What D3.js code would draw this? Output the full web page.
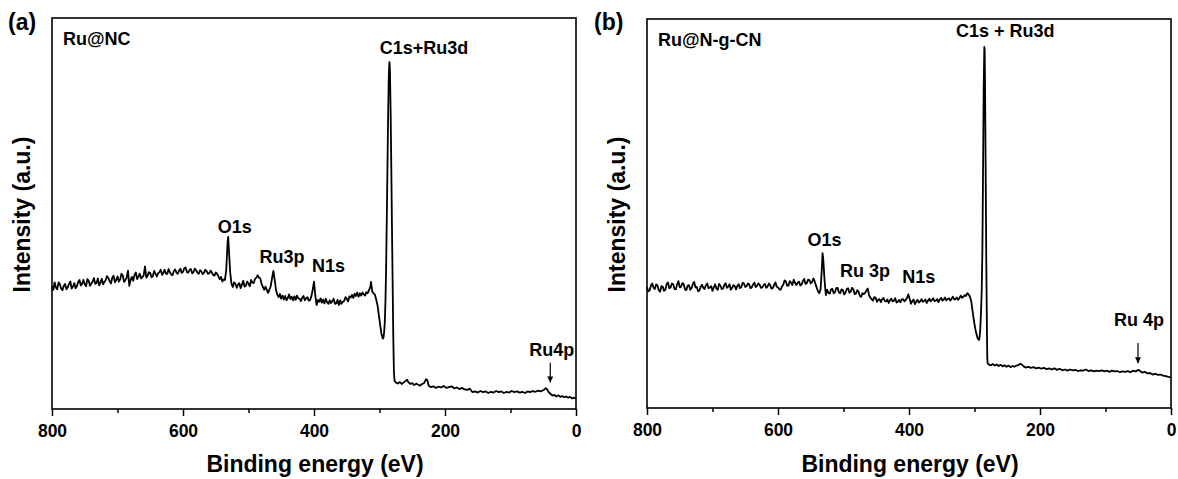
<!DOCTYPE html>
<html>
<head>
<meta charset="utf-8">
<script src="https://cdn.jsdelivr.net/npm/d3@7"></script>
<style>
  html, body { margin: 0; padding: 0; background: #fff; }
  svg { display: block; }
  text { font-family: "Liberation Sans", Arial, sans-serif; font-weight: bold; fill: #000; }
</style>
</head>
<body>
<svg id="chart" width="1178" height="479"></svg>
<script>
// XPS survey spectra as [binding energy (eV), intensity (a.u.)]
const spectrumA = [
  [800,31.2],[798,30.5],[796,32.4],[794,31.0],[792,30.6],[790,32.4],[788,31.9],[786,30.8],[784,30.4],[782,31.5],
  [780,32.0],[778,30.6],[776,31.1],[774,32.0],[772,32.6],[770,30.8],[768,31.3],[766,32.2],[764,30.9],[762,31.4],
  [760,32.5],[758,33.0],[756,31.6],[754,32.0],[752,33.0],[750,31.9],[748,31.4],[746,33.2],[744,32.8],[742,31.5],
  [740,32.1],[738,32.6],[736,33.5],[734,32.0],[732,32.2],[730,33.4],[728,31.6],[726,32.4],[724,33.3],[722,31.9],
  [720,32.5],[718,33.0],[716,34.0],[714,33.5],[712,32.7],[710,32.1],[708,33.6],[706,34.1],[704,32.4],[702,33.0],
  [700,33.9],[698,32.6],[696,33.1],[694,34.6],[692,34.2],[690,32.5],[688,33.0],[686,33.6],[684,35.4],[682,31.5],
  [680,33.0],[678,33.8],[676,32.8],[674,34.3],[672,34.9],[670,33.2],[668,33.9],[666,34.6],[664,33.4],[662,33.7],
  [660,34.2],[658,36.5],[656,33.6],[654,34.1],[652,35.0],[650,34.8],[648,33.7],[646,34.0],[644,35.3],[642,34.6],
  [640,33.9],[638,34.7],[636,35.0],[634,35.6],[632,34.3],[630,34.8],[628,35.6],[626,34.7],[624,34.5],[622,35.8],
  [620,35.0],[618,34.4],[616,34.2],[614,35.3],[612,35.7],[610,34.9],[608,34.6],[606,35.4],[604,35.9],[602,34.8],
  [600,35.1],[598,36.0],[596,36.2],[594,35.0],[592,34.9],[590,35.6],[588,35.8],[586,34.7],[584,35.0],[582,35.9],
  [580,35.5],[578,34.9],[576,34.6],[574,35.5],[572,35.2],[570,34.5],[568,34.8],[566,35.6],[564,35.3],[562,34.6],
  [560,34.7],[558,35.4],[556,34.9],[554,34.3],[552,34.1],[550,34.9],[548,34.6],[546,33.9],[544,33.2],[542,33.8],
  [540,32.6],[538,33.1],[536,33.0],[534,35.5],[532,42.5],[531,44.0],[530,41.0],[528,35.0],[526,32.0],[524,31.2],
  [522,32.4],[520,32.0],[518,31.0],[516,31.8],[514,32.2],[512,30.9],[510,31.8],[508,32.8],[506,31.3],[504,31.5],
  [502,32.6],[500,32.0],[498,31.4],[496,33.0],[494,32.3],[492,32.2],[490,33.3],[488,33.6],[486,34.2],[484,33.6],
  [482,33.4],[480,32.0],[478,31.2],[476,30.5],[474,31.3],[472,30.4],[470,29.7],[468,30.6],[466,31.4],[464,33.5],
  [462,35.3],[460,33.0],[458,30.5],[456,29.2],[454,28.6],[452,29.4],[450,28.2],[448,29.0],[446,28.0],[444,28.9],
  [442,27.8],[440,28.4],[438,29.3],[436,28.1],[434,28.7],[432,27.8],[430,28.8],[428,27.9],[426,29.0],[424,28.3],
  [422,28.2],[420,27.6],[418,28.5],[416,28.9],[414,27.8],[412,28.3],[410,28.6],[408,27.7],[406,27.9],[404,28.8],
  [402,30.5],[400,32.6],[398,29.0],[396,26.6],[394,27.9],[392,27.4],[390,28.3],[388,27.2],[386,28.0],[384,27.0],
  [382,28.2],[380,27.3],[378,26.9],[376,27.8],[374,27.1],[372,27.6],[370,28.2],[368,26.9],[366,27.0],[364,27.9],
  [362,26.6],[360,27.8],[358,26.9],[356,27.4],[354,27.6],[352,28.6],[350,28.2],[348,27.5],[346,28.8],[344,28.5],
  [342,29.2],[340,28.4],[338,29.5],[336,28.9],[334,29.8],[332,28.7],[330,29.6],[328,29.0],[326,29.8],[324,29.3],
  [322,29.0],[320,29.9],[318,29.6],[316,30.4],[314,31.2],[313,32.5],[311,30.0],[309,29.6],[307,29.2],[305,28.0],
  [303,26.5],[301,24.0],[299,21.5],[297,19.2],[295,18.0],[294,18.2],[293,19.5],[292,22.0],[291,27.0],[290,35.0],
  [289,47.0],[288,60.0],[287,73.0],[286,84.0],[285,88.7],[284.5,88.5],[284,86.0],[283,76.0],[282,62.0],[281,47.0],
  [280,33.0],[279,19.0],[278,9.5],[277,7.2],[275,6.8],[272,6.5],[269,6.9],[266,6.4],[263,6.8],[260,7.2],
  [258,7.5],[256,6.9],[253,6.4],[250,6.6],[247,6.1],[244,6.5],[241,6.2],[238,6.0],[235,6.4],[232,6.6],
  [229,7.6],[227,7.4],[225,6.0],[222,5.6],[218,5.8],[214,5.4],[210,5.7],[206,5.5],[202,5.9],[198,5.4],
  [194,5.6],[190,5.8],[186,5.3],[182,5.5],[178,5.1],[174,5.4],[170,5.0],[166,4.9],[162,5.2],[158,4.3],
  [154,4.5],[150,4.2],[146,4.6],[142,4.3],[138,4.5],[134,4.1],[130,4.4],[126,4.2],[122,4.6],[118,4.3],
  [114,4.5],[110,4.1],[106,4.4],[102,4.2],[98,4.6],[94,4.3],[90,4.5],[86,4.2],[82,4.4],[78,4.1],
  [74,4.5],[70,4.3],[66,4.6],[62,4.4],[58,4.7],[54,4.5],[50,4.8],[46,5.3],[44,5.0],[42,4.4],
  [39,3.9],[36,3.4],[33,3.6],[30,3.2],[27,3.5],[24,3.1],[21,3.3],[18,3.0],[15,3.2],[12,2.9],
  [9,3.1],[6,2.7],[3,2.9],[0,2.6]
];

const spectrumB = [
  [800,31.0],[798,30.0],[796,30.2],[794,31.5],[792,32.0],[790,30.9],[788,30.6],[786,31.8],[784,31.5],[782,30.3],
  [780,29.9],[778,31.3],[776,31.2],[774,30.1],[772,30.4],[770,31.9],[768,32.3],[766,30.8],[764,31.0],[762,32.0],
  [760,31.8],[758,30.6],[756,30.5],[754,31.8],[752,32.6],[750,31.0],[748,31.2],[746,32.1],[744,31.9],[742,30.5],
  [740,30.3],[738,31.4],[736,31.6],[734,30.4],[732,30.8],[730,31.9],[728,32.4],[726,31.0],[724,31.1],[722,30.0],
  [720,30.2],[718,31.2],[716,31.7],[714,30.9],[712,30.6],[710,31.6],[708,32.0],[706,30.8],[704,31.0],[702,31.3],
  [700,30.1],[698,31.0],[696,31.8],[694,30.7],[692,30.4],[690,31.9],[688,31.5],[686,30.6],[684,30.7],[682,31.6],
  [680,32.1],[678,30.9],[676,31.2],[674,31.8],[672,30.4],[670,30.9],[668,31.6],[666,31.3],[664,30.5],[662,31.4],
  [660,31.8],[658,30.8],[656,31.1],[654,32.2],[652,32.0],[650,31.1],[648,31.3],[646,32.0],[644,31.8],[642,30.8],
  [640,31.0],[638,31.8],[636,32.2],[634,31.1],[632,31.4],[630,32.0],[628,31.7],[626,30.9],[624,31.0],[622,31.6],
  [620,31.9],[618,30.9],[616,31.2],[614,32.0],[612,31.6],[610,30.7],[608,30.8],[606,31.6],[604,32.3],[602,31.2],
  [600,31.0],[598,30.5],[596,30.4],[594,31.2],[592,31.7],[590,32.8],[588,32.6],[586,31.4],[584,31.5],[582,32.6],
  [580,32.2],[578,31.6],[576,33.0],[574,32.2],[572,31.6],[570,32.2],[568,32.5],[566,31.5],[564,31.8],[562,32.6],
  [560,33.2],[558,31.9],[556,32.1],[554,33.0],[552,32.9],[550,32.0],[548,32.4],[546,33.3],[545,33.0],[543,32.0],
  [541,31.0],[539,30.0],[537,29.5],[535,30.5],[533,36.0],[532,39.8],[531,38.5],[529,33.0],[527,29.0],[525,30.4],
  [523,29.6],[521,29.4],[519,30.5],[517,30.6],[515,29.5],[513,29.8],[511,30.8],[509,30.9],[507,29.7],[505,29.5],
  [503,30.5],[501,30.3],[499,29.2],[497,29.6],[495,30.6],[493,30.8],[491,29.6],[489,29.9],[487,30.9],[485,30.5],
  [483,29.3],[481,29.4],[479,30.3],[477,29.9],[475,28.8],[473,28.6],[471,29.5],[469,29.3],[467,29.6],[465,30.2],
  [463,30.7],[461,29.0],[459,28.3],[457,28.0],[455,27.6],[453,28.5],[451,28.4],[449,27.3],[447,27.8],[445,28.0],
  [443,27.2],[441,27.9],[439,28.3],[437,27.5],[435,27.4],[433,27.9],[431,27.0],[429,27.7],[427,28.1],[425,27.4],
  [423,27.6],[421,28.2],[419,27.1],[417,27.3],[415,27.8],[413,27.2],[411,27.9],[409,28.0],[407,27.4],[405,27.8],
  [403,28.3],[401,29.2],[399,28.1],[397,26.8],[395,27.5],[393,27.9],[391,26.7],[389,27.3],[387,27.8],[385,27.1],
  [383,27.4],[381,28.0],[379,27.3],[377,27.5],[375,27.9],[373,27.0],[371,27.6],[369,28.1],[367,27.4],[365,27.8],
  [363,28.2],[361,27.5],[359,27.6],[357,28.0],[355,27.2],[353,27.9],[351,28.3],[349,27.6],[347,27.9],[345,28.4],
  [343,27.7],[341,28.0],[339,28.2],[337,27.6],[335,28.1],[333,28.6],[331,27.9],[329,28.0],[327,28.4],[325,27.8],
  [323,28.3],[321,28.9],[319,28.3],[317,28.6],[315,29.0],[313,28.8],[311,29.5],[309,29.2],[307,28.6],[305,27.5],
  [303,25.0],[301,22.6],[299,20.5],[297,19.0],[295,17.8],[293,17.5],[292,18.5],[291,21.0],[290,25.0],[289,30.0],
  [288,40.0],[287,60.0],[286,82.0],[285,92.8],[284.5,92.0],[284,85.0],[283,62.0],[282,38.0],[281,20.0],[280.5,13.0],
  [280,11.5],[278,11.2],[277,11.0],[275,11.0],[272,11.3],[269,10.9],[266,11.2],[263,10.8],[260,11.1],[257,10.7],
  [254,11.0],[251,10.6],[248,10.9],[245,10.5],[242,10.8],[239,10.6],[236,10.9],[233,11.0],[230,11.4],[228,11.2],
  [225,10.7],[222,10.4],[218,10.6],[214,10.3],[210,10.5],[206,10.2],[202,10.4],[198,10.1],[194,10.3],[190,10.0],
  [186,10.2],[182,9.9],[178,10.2],[174,9.8],[170,10.1],[166,9.7],[162,9.9],[158,9.6],[154,9.9],[150,9.7],
  [146,9.8],[142,9.5],[138,9.7],[134,9.6],[130,9.9],[126,9.5],[122,9.7],[118,9.4],[114,9.6],[110,9.5],
  [106,9.7],[102,9.4],[98,9.6],[94,9.3],[90,9.6],[86,9.4],[82,9.5],[78,9.2],[74,9.4],[70,9.3],
  [66,9.5],[62,9.2],[58,9.6],[54,9.4],[50,9.8],[47,9.5],[44,9.1],[40,9.3],[36,8.9],[32,9.0],
  [28,8.6],[24,8.8],[20,8.5],[16,8.6],[12,8.3],[8,8.2],[4,8.0],[0,7.9]
];

const majorTicks = [800, 600, 400, 200, 0];
const minorTicks = [700, 500, 300, 100];

// peak labels: [text, energy, intensity] (centre of the text baseline)
const labelsA = [["O1s", 521, 45.0], ["Ru3p", 449, 37.3], ["N1s", 378, 35.0], ["C1s+Ru3d", 232, 90.8], ["Ru4p", 37, 13.6]];
const labelsB = [["O1s", 529, 41.6], ["Ru 3p", 467, 33.7], ["N1s", 385, 32.1], ["C1s + Ru3d", 253, 95.4], ["Ru 4p", 49, 21.1]];
// arrows: [energy, intensity from, intensity to]
const arrowA = [39.3, 11.8, 6.8];
const arrowB = [50.4, 16.7, 11.5];

const panels = [
  { tag: "(a)", sample: "Ru@NC", data: spectrumA, labels: labelsA, arrow: arrowA,
    left: 52, right: 576, top: 18, bottom: 409, tagX: 8 },
  { tag: "(b)", sample: "Ru@N-g-CN", data: spectrumB, labels: labelsB, arrow: arrowB,
    left: 647, right: 1171, top: 19, bottom: 408, tagX: 594 }
];

const svg = d3.select("#chart");
svg.append("rect").attr("width", 1178).attr("height", 479).attr("fill", "#fff");

svg.append("defs").append("marker")
  .attr("id", "arrowhead")
  .attr("viewBox", "0 0 10 10")
  .attr("refX", 10).attr("refY", 5)
  .attr("markerWidth", 6).attr("markerHeight", 7)
  .attr("markerUnits", "userSpaceOnUse")
  .attr("orient", "auto")
  .append("path").attr("d", "M0,0 L10,5 L0,10 Z").attr("fill", "#000");

panels.forEach(p => {
  const x = d3.scaleLinear().domain([800, 0]).range([p.left, p.right]);
  const y = d3.scaleLinear().domain([0, 100]).range([p.bottom, p.top]);
  const g = svg.append("g");

  // spectrum trace
  g.append("path")
    .datum(p.data)
    .attr("fill", "none")
    .attr("stroke", "#000")
    .attr("stroke-width", 1.8)
    .attr("stroke-linejoin", "round")
    .attr("d", d3.line().x(d => x(d[0])).y(d => y(d[1])));

  // bottom axis: labelled major ticks plus unlabelled minor ticks
  const ax = g.append("g").attr("transform", `translate(0,${p.bottom})`)
    .call(d3.axisBottom(x).tickValues(majorTicks).tickSize(7).tickPadding(9).tickSizeOuter(0).tickFormat(d3.format("d")));
  ax.select(".domain").remove();
  ax.selectAll(".tick line").attr("stroke", "#000").attr("stroke-width", 1.5);
  ax.selectAll(".tick text").style("font-size", "17.5px").style("font-family", "'Liberation Sans', Arial, sans-serif").style("font-weight", "bold");

  const mx = g.append("g").attr("transform", `translate(0,${p.bottom})`)
    .call(d3.axisBottom(x).tickValues(minorTicks).tickSize(4).tickFormat(""));
  mx.select(".domain").remove();
  mx.selectAll(".tick line").attr("stroke", "#000").attr("stroke-width", 1.5);

  // plot frame
  g.append("rect")
    .attr("x", p.left).attr("y", p.top)
    .attr("width", p.right - p.left).attr("height", p.bottom - p.top)
    .attr("fill", "none").attr("stroke", "#000").attr("stroke-width", 1.6);

  // axis titles
  g.append("text")
    .attr("x", (p.left + p.right) / 2 + 1).attr("y", 472)
    .attr("text-anchor", "middle").style("font-size", "23px")
    .text("Binding energy (eV)");
  g.append("text")
    .attr("transform", `translate(${p.left - 22},${(p.top + p.bottom) / 2 + 1}) rotate(-90)`)
    .attr("text-anchor", "middle").style("font-size", "23px")
    .text("Intensity (a.u.)");

  // panel tag and sample name
  g.append("text").attr("x", p.tagX).attr("y", 30).style("font-size", "23px").text(p.tag);
  g.append("text").attr("x", p.left + 11).attr("y", p.top + 27).style("font-size", "18px").text(p.sample);

  // peak labels
  g.selectAll("text.peak").data(p.labels).enter().append("text")
    .attr("class", "peak")
    .attr("x", d => x(d[1])).attr("y", d => y(d[2]))
    .attr("text-anchor", "middle").style("font-size", "18px")
    .text(d => d[0]);

  // arrow marking the Ru 4p position
  g.append("line")
    .attr("x1", x(p.arrow[0])).attr("x2", x(p.arrow[0]))
    .attr("y1", y(p.arrow[1])).attr("y2", y(p.arrow[2]))
    .attr("stroke", "#000").attr("stroke-width", 1.2)
    .attr("marker-end", "url(#arrowhead)");
});
</script>
</body>
</html>
